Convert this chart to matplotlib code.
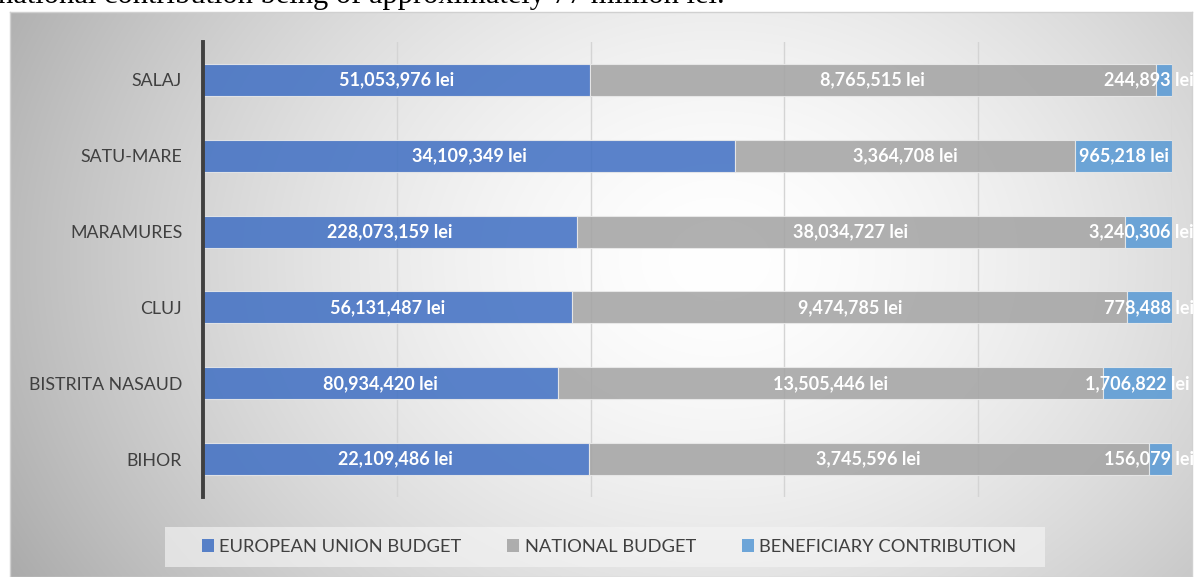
import numpy as np
import matplotlib
matplotlib.use("Agg")
import matplotlib.pyplot as plt
from matplotlib.patches import Patch, Rectangle

# ---------------- data ----------------
regions = ["BIHOR", "BISTRITA NASAUD", "CLUJ", "MARAMURES", "SATU-MARE", "SALAJ"]
eu_values = [22109486, 80934420, 56131487, 228073159, 34109349, 51053976]
national_values = [3745596, 13505446, 9474785, 38034727, 3364708, 8765515]
beneficiary_values = [156079, 1706822, 778488, 3240306, 965218, 244893]
# bar lengths as drawn in the picture (percent of the full bar)
eu_share = [39.8, 36.6, 38.1, 38.6, 54.9, 39.9]
national_share = [57.8, 56.3, 57.3, 56.5, 35.1, 58.4]
beneficiary_share = [2.4, 7.1, 4.6, 4.9, 10.0, 1.7]
series_names = ["EUROPEAN UNION BUDGET", "NATIONAL BUDGET", "BENEFICIARY CONTRIBUTION"]
colors = ["#4472C4", "#A5A5A5", "#5B9BD5"]

W, H = 1196, 577
fig = plt.figure(figsize=(W / 100, H / 100), dpi=100)
fig.patch.set_facecolor("white")

# ---------------- chart-area background (radial gray gradient) ----------------
bx0, by0, bx1, by1 = 10, 12, 1192, 577  # pixel box (top-left origin)
bg = fig.add_axes([bx0 / W, 1 - by1 / H, (bx1 - bx0) / W, (by1 - by0) / H], zorder=0)
xx, yy = np.meshgrid(np.linspace(bx0, bx1, 600), np.linspace(by0, by1, 300))
d = np.sqrt(((xx - 720) / 700) ** 2 + ((yy - 260) / 560) ** 2)
val = 1.0 - 0.26 * np.clip(d, 0, 1.2) ** 1.6
img = np.dstack([val, val, val])
bg.imshow(img, aspect="auto", extent=[0, 1, 0, 1], interpolation="bilinear")
bg.set_xlim(0, 1); bg.set_ylim(0, 1)
for s in bg.spines.values():
    s.set_color("#d0d0d0"); s.set_linewidth(1)
bg.set_xticks([]); bg.set_yticks([])

# ---------------- main axes ----------------
ax_l, ax_r, ax_t, ax_b = 203, 1172, 42, 497
ax = fig.add_axes([ax_l / W, 1 - ax_b / H, (ax_r - ax_l) / W, (ax_b - ax_t) / H], zorder=2)
ax.patch.set_alpha(0)

y = np.arange(len(regions))
left = np.zeros(len(regions))
shares = [eu_share, national_share, beneficiary_share]
values = [eu_values, national_values, beneficiary_values]
bar_sets = []
for sh, c in zip(shares, colors):
    bars = ax.barh(y, sh, left=left, height=0.42, color=c, alpha=0.88,
                   edgecolor="#eaeaea", linewidth=0.8, zorder=3)
    bar_sets.append((bars, left.copy(), np.array(sh)))
    left = left + np.array(sh)

ax.set_xlim(0, 100)
ax.set_ylim(-0.5, len(regions) - 0.5)
ax.set_xticks([0, 20, 40, 60, 80, 100])
ax.set_xticklabels([])
ax.tick_params(axis="x", length=0)
ax.grid(axis="x", color="#d4d4d4", linewidth=1, zorder=1)
ax.set_axisbelow(True)
ax.set_yticks(y)
ax.set_yticklabels(regions, fontsize=12.8, color="#404040", family="Lato")
ax.tick_params(axis="y", length=0, pad=15)
for side in ["top", "right", "bottom"]:
    ax.spines[side].set_visible(False)
ax.spines["left"].set_color("#404040")
ax.spines["left"].set_linewidth(2.8)
ax.spines["left"].set_zorder(5)

# ---------------- data labels ----------------
texts = []
for (bars, lft, sh), vals in zip(bar_sets, values):
    for i in range(len(regions)):
        t = ax.text(lft[i] + sh[i] / 2, y[i], f"{vals[i]:,} lei", ha="center", va="center",
                    color="white", fontsize=13, fontweight="bold", family="Lato", zorder=6)
        texts.append(t)

fig.canvas.draw()
renderer = fig.canvas.get_renderer()
right_limit_px = 1194
for t in texts:
    bb = t.get_window_extent(renderer)
    if bb.x1 > right_limit_px:
        xdata = ax.transData.inverted().transform((right_limit_px, 0))[0]
        t.set_x(xdata)
        t.set_ha("right")

# ---------------- legend ----------------
lx0, lx1, ly0, ly1 = 165, 1045, 527, 567
fig.patches.append(Rectangle((lx0 / W, 1 - ly1 / H), (lx1 - lx0) / W, (ly1 - ly0) / H,
                             transform=fig.transFigure, facecolor="#f4f4f4", alpha=0.65,
                             edgecolor="none", zorder=1))
handles = [Patch(facecolor=c, alpha=0.88, edgecolor="none") for c in colors]
leg = fig.legend(handles, series_names, loc="center", ncol=3,
                 bbox_to_anchor=(609 / W, 1 - 547 / H),
                 frameon=False,
                 handlelength=0.65, handleheight=0.65, handletextpad=0.3,
                 columnspacing=2.5, borderpad=0.0, borderaxespad=0,
                 prop={"family": "Lato", "size": 13.2})
leg.set_zorder(3)
for tx in leg.get_texts():
    tx.set_color("#404040")

# ---------------- cut-off document text above ----------------
fig.text(-2 / W, 1 - 3 / H, "national contribution being of approximately 77 million lei.",
         ha="left", va="baseline", fontsize=22, family="Liberation Serif", color="black")

fig.savefig("out.png", dpi=100)
